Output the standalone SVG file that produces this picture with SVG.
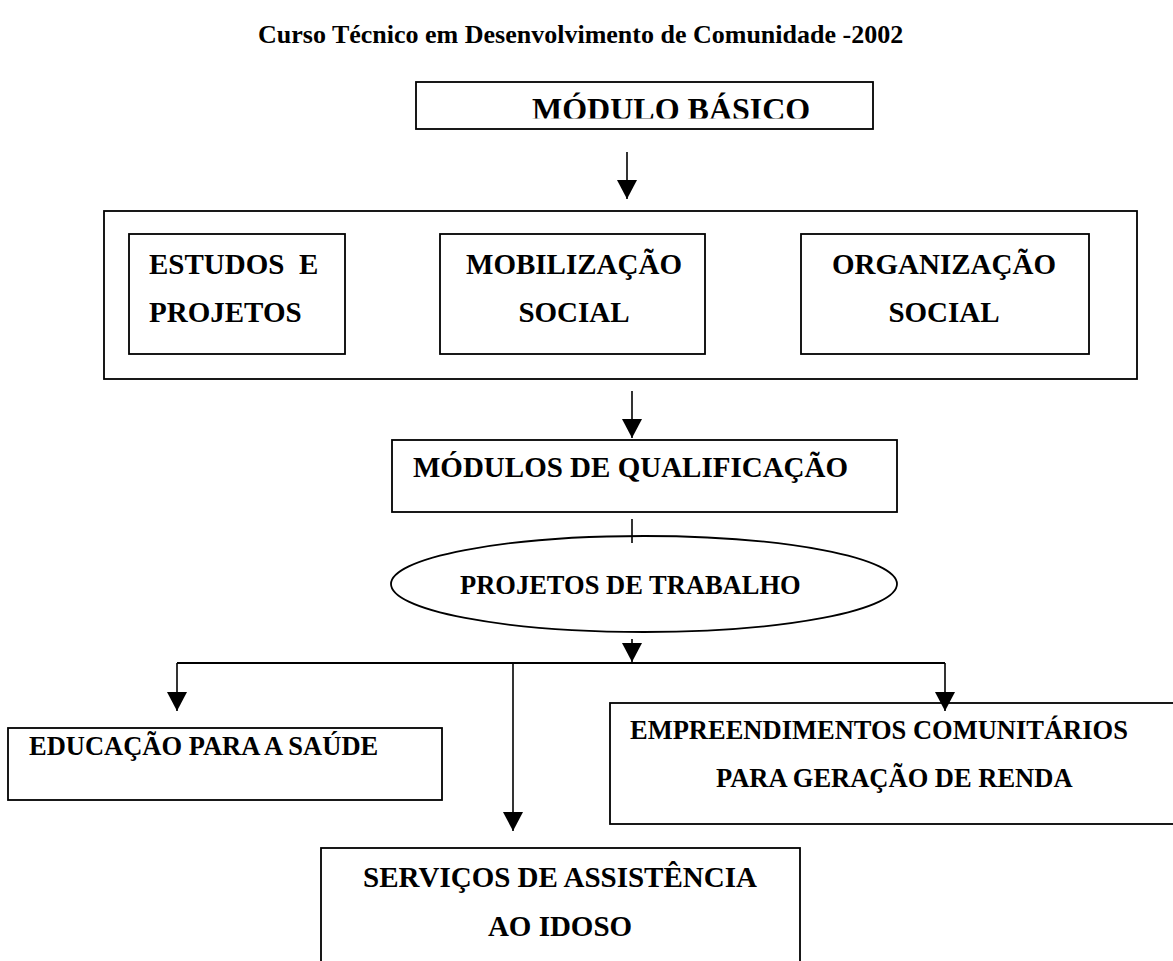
<svg xmlns="http://www.w3.org/2000/svg" width="1173" height="961" viewBox="0 0 1173 961">
<style>
.box{fill:none;stroke:#000;stroke-width:1.8}
.t{font-family:"Liberation Serif","Times New Roman",serif;font-weight:bold;fill:#000}
.c{fill:none;stroke:#000;stroke-width:1.6}
.h{fill:none;stroke:#000;stroke-width:2}
</style>
<defs>
<marker id="arr" viewBox="0 0 20 19" refX="10" refY="19" markerWidth="20" markerHeight="19" markerUnits="userSpaceOnUse" orient="0"><path d="M0,0 L20,0 L10,19 z" fill="#000"/></marker>
<clipPath id="clipTop"><rect x="416" y="82" width="457" height="36.5"/></clipPath>
</defs>
<rect x="0" y="0" width="1173" height="961" fill="#fff"/>
<text id="titulo" class="t" x="258" y="43" font-size="26">Curso Técnico em Desenvolvimento de Comunidade -2002</text>
<g id="modulo-basico">
<rect class="box" x="416" y="82" width="457" height="47"/>
<text class="t" x="532" y="120" font-size="32" clip-path="url(#clipTop)">MÓDULO BÁSICO</text>
</g>
<g id="grupo-basico">
<rect class="box" x="104" y="211" width="1033" height="168"/>
</g>
<g id="estudos">
<rect class="box" x="129" y="234" width="216" height="120"/>
<text class="t" x="149" y="274" font-size="29" xml:space="preserve">ESTUDOS  E</text>
<text class="t" x="149" y="322" font-size="29">PROJETOS</text>
</g>
<g id="mobilizacao">
<rect class="box" x="440" y="234" width="265" height="120"/>
<text class="t" x="574" y="274" font-size="29" text-anchor="middle">MOBILIZAÇÃO</text>
<text class="t" x="574" y="322" font-size="29" text-anchor="middle">SOCIAL</text>
</g>
<g id="organizacao">
<rect class="box" x="801" y="234" width="288" height="120"/>
<text class="t" x="944" y="274" font-size="29" text-anchor="middle">ORGANIZAÇÃO</text>
<text class="t" x="944" y="322" font-size="29" text-anchor="middle">SOCIAL</text>
</g>
<g id="qualificacao">
<rect class="box" x="392" y="440" width="505" height="72"/>
<text class="t" x="413" y="477" font-size="29">MÓDULOS DE QUALIFICAÇÃO</text>
</g>
<g id="projetos-trabalho">
<ellipse class="box" cx="644" cy="584" rx="253" ry="48"/>
<text class="t" x="460" y="594" font-size="26.5">PROJETOS DE TRABALHO</text>
</g>
<g id="educacao">
<rect class="box" x="8" y="728" width="434" height="72"/>
<text class="t" x="29" y="755" font-size="26.5">EDUCAÇÃO PARA A SAÚDE</text>
</g>
<g id="empreendimentos">
<rect class="box" x="610" y="703" width="590" height="121"/>
<text class="t" x="630" y="739" font-size="26.5">EMPREENDIMENTOS COMUNITÁRIOS</text>
<text class="t" x="716" y="787" font-size="26.5">PARA GERAÇÃO DE RENDA</text>
</g>
<g id="servicos">
<rect class="box" x="321" y="848" width="479" height="160"/>
<text class="t" x="560" y="887" font-size="29" text-anchor="middle">SERVIÇOS DE ASSISTÊNCIA</text>
<text class="t" x="560" y="936" font-size="29" text-anchor="middle">AO IDOSO</text>
</g>
<g id="conectores">
<path class="c" d="M627,152 V199" marker-end="url(#arr)"/>
<path class="c" d="M632,391 V438" marker-end="url(#arr)"/>
<path class="c" d="M632,519 V543"/>
<path class="c" d="M632,639 V662" marker-end="url(#arr)"/>
<path class="h" d="M177,663 H945"/>
<path class="c" d="M177,663 V711" marker-end="url(#arr)"/>
<path class="c" d="M513,663 V831" marker-end="url(#arr)"/>
<path class="c" d="M945,663 V711" marker-end="url(#arr)"/>
</g>
</svg>
